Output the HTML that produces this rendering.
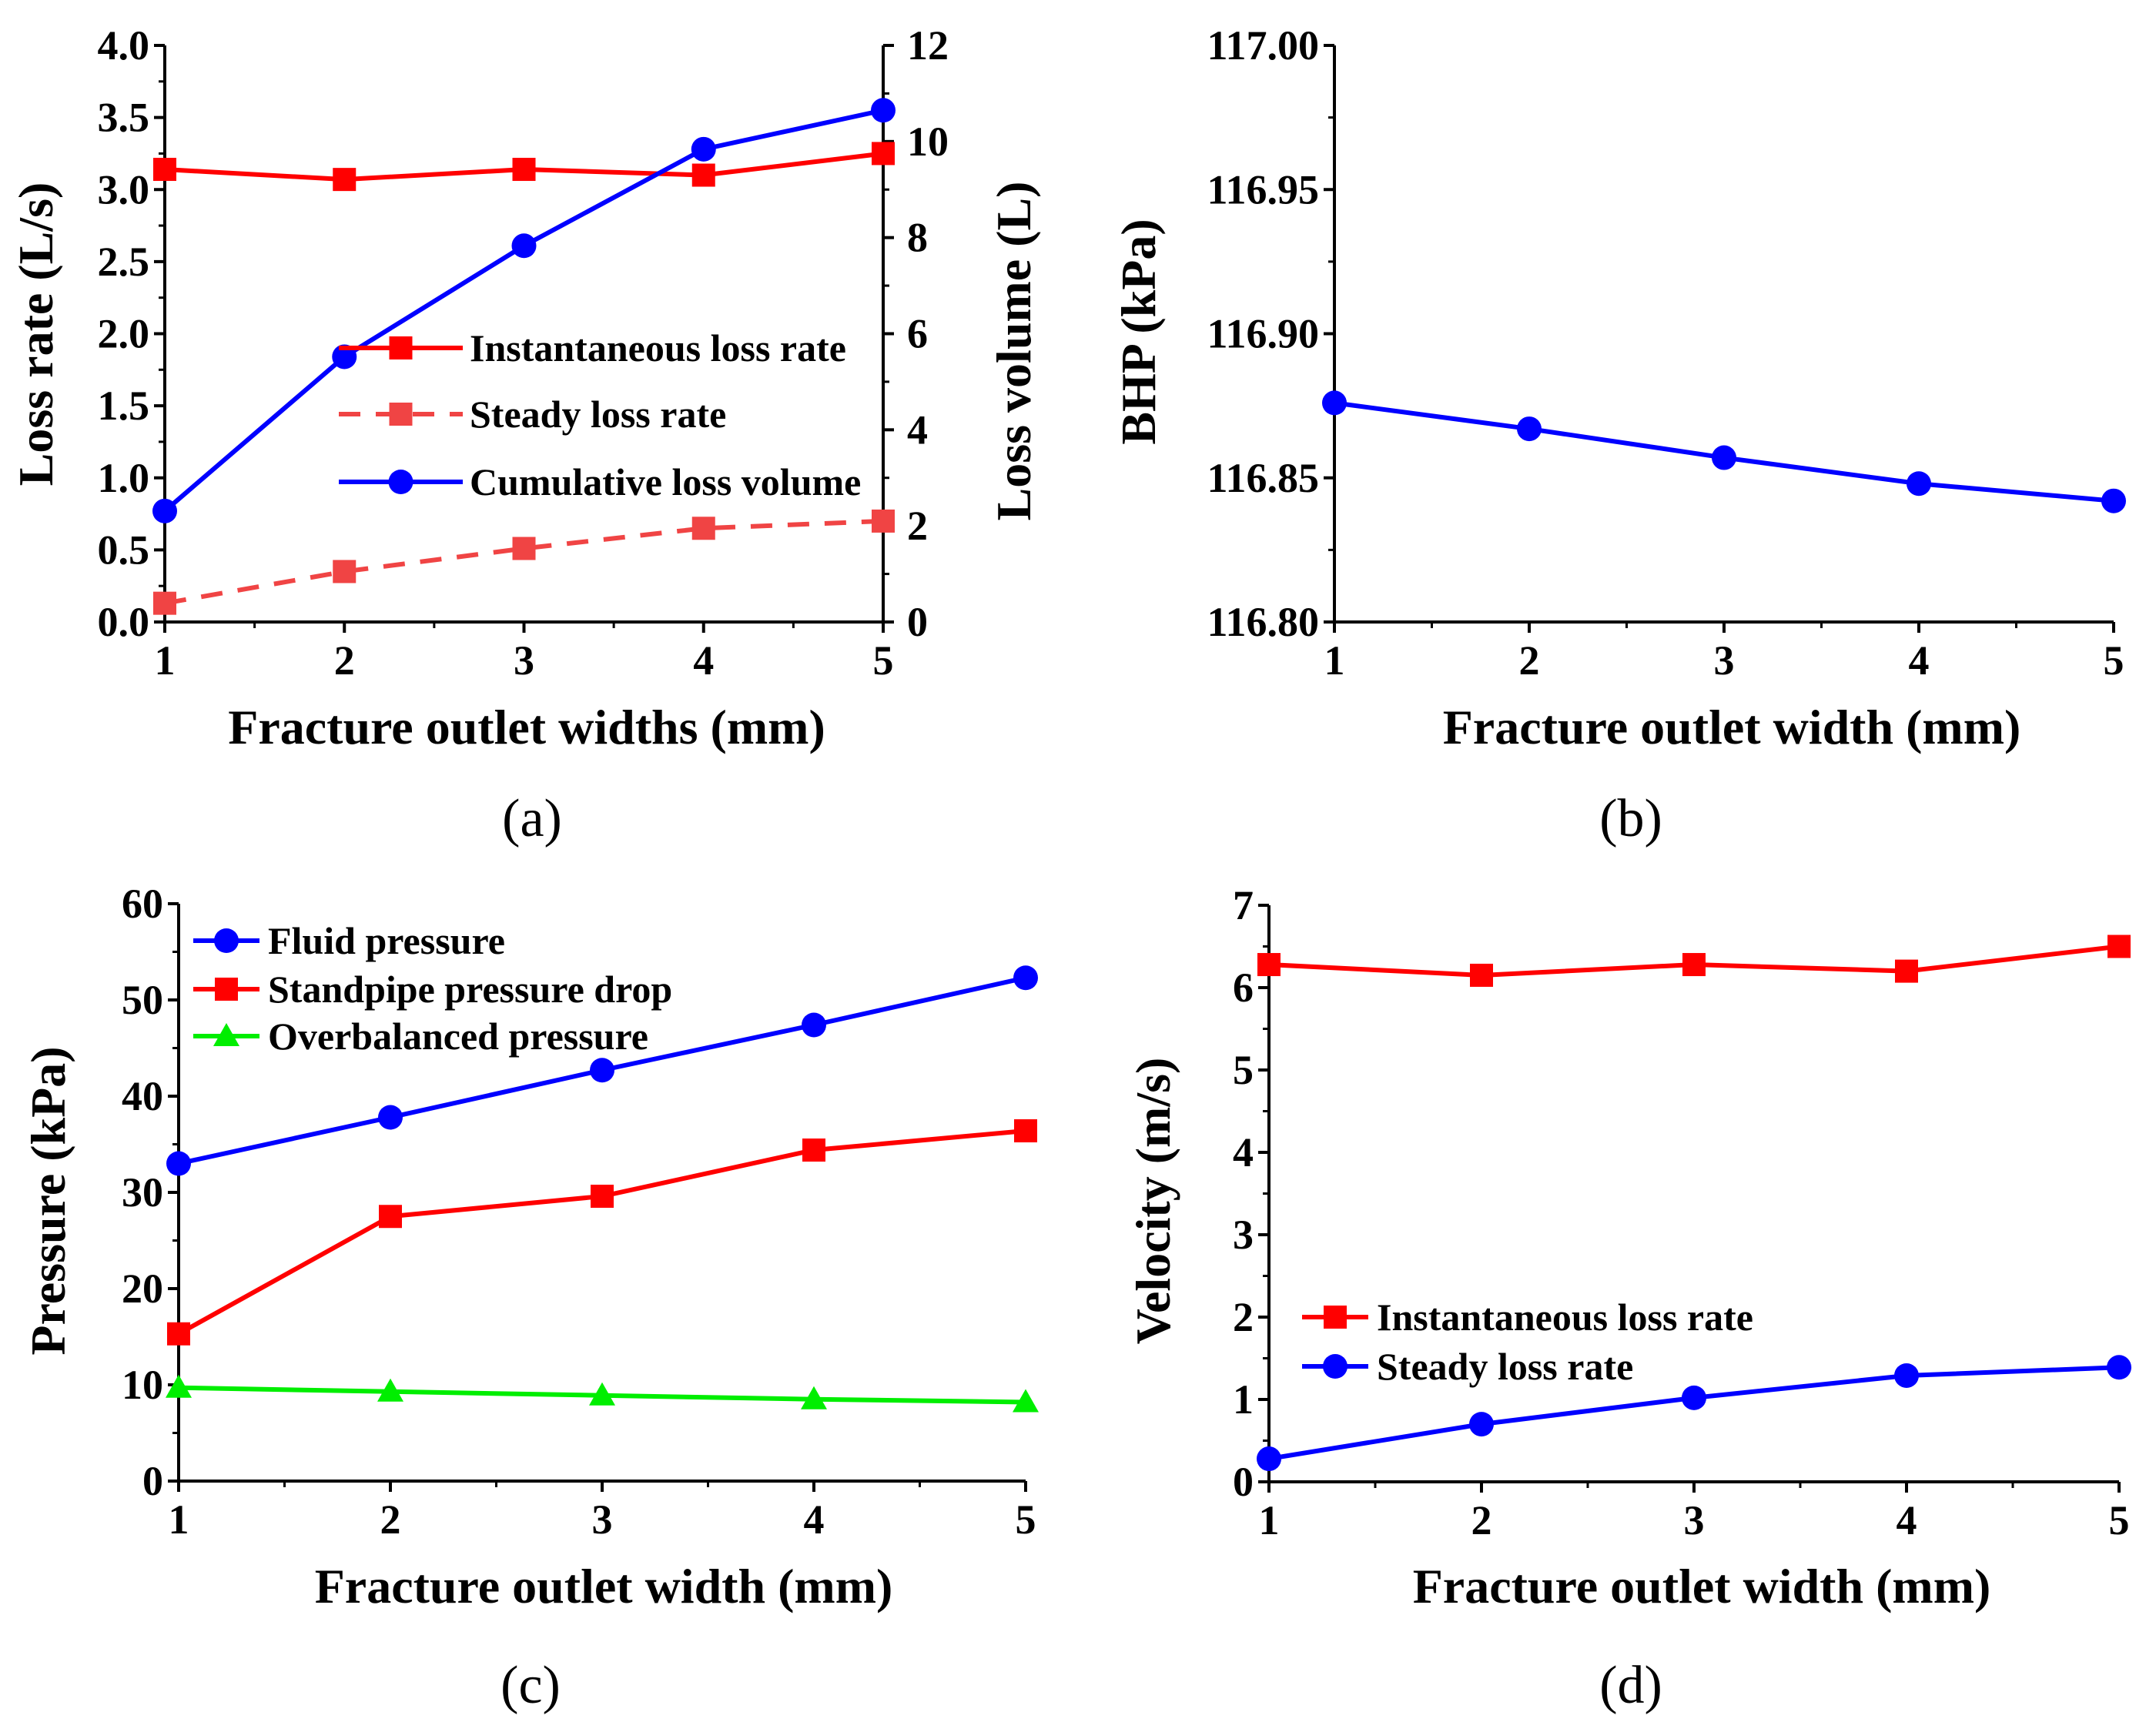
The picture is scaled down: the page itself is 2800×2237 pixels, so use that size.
<!DOCTYPE html>
<html><head><meta charset="utf-8"><style>
body{margin:0;background:#fff}
svg{display:block}
text{font-family:"Liberation Serif",serif;font-weight:bold;fill:#000}
text.cap{font-weight:normal}
</style></head><body>
<svg id="fig" width="2800" height="2237" viewBox="0 0 2800 2237" xmlns="http://www.w3.org/2000/svg"></svg>
<script>
const xCats=[1,2,3,4,5];
const aInst=[3.14,3.07,3.14,3.10,3.25];
const aSteady=[0.13,0.35,0.51,0.65,0.70];
const aCum=[2.31,5.52,7.83,9.84,10.65];
const aLeftTicks=["0.0","0.5","1.0","1.5","2.0","2.5","3.0","3.5","4.0"];
const aRightTicks=["0","2","4","6","8","10","12"];
const bBHP=[116.876,116.867,116.857,116.848,116.842];
const bTicks=["116.80","116.85","116.90","116.95","117.00"];
const cFluid=[33.0,37.8,42.7,47.4,52.3];
const cStand=[15.3,27.5,29.6,34.4,36.4];
const cOver=[9.7,9.3,8.9,8.5,8.2];
const cTicks=["0","10","20","30","40","50","60"];
const dInst=[6.28,6.15,6.28,6.20,6.50];
const dSteady=[0.28,0.70,1.02,1.29,1.39];
const dTicks=["0","1","2","3","4","5","6","7"];

const svg=document.getElementById('fig');
const NS='http://www.w3.org/2000/svg';
const TF=54, TT=64, LF=50;
function mk(tag,attrs,parent){const e=document.createElementNS(NS,tag);for(const k in attrs)e.setAttribute(k,attrs[k]);(parent||svg).appendChild(e);return e;}
function txt(s,x,y,size,anchor,parent,rot,cls){const t=mk('text',{x:x,y:y,'font-size':size,'text-anchor':anchor||'middle'},parent);if(rot)t.setAttribute('transform','rotate(-90 '+x+' '+y+')');if(cls)t.setAttribute('class',cls);t.textContent=s;return t;}
function scale(d0,d1,r0,r1){return v=>r0+(v-d0)/(d1-d0)*(r1-r0);}

function axes(g,X0,X1,Y0,Y1,ymin,ymax,ticks,minorStep){
  const sx=scale(1,5,X0,X1), sy=scale(ymin,ymax,Y0,Y1);
  mk('line',{x1:X0,y1:Y0,x2:X1,y2:Y0,stroke:'#000','stroke-width':4},g);
  mk('line',{x1:X0,y1:Y0,x2:X0,y2:Y1,stroke:'#000','stroke-width':4},g);
  for(let i=0;i<5;i++){mk('line',{x1:sx(xCats[i]),y1:Y0,x2:sx(xCats[i]),y2:Y0+14,stroke:'#000','stroke-width':4},g);
    const t=txt(String(xCats[i]),sx(xCats[i]),Y0+68,TF,'middle',g);}
  for(let i=0;i<4;i++){const x=sx(xCats[i]+0.5);mk('line',{x1:x,y1:Y0,x2:x,y2:Y0+8,stroke:'#000','stroke-width':3},g);}
  ticks.forEach(s=>{const v=parseFloat(s),y=sy(v);mk('line',{x1:X0,y1:y,x2:X0-14,y2:y,stroke:'#000','stroke-width':4},g);
    const t=txt(s,X0-20,y+18,TF,'end',g);});
  for(let v=ymin+minorStep;v<ymax;v+=2*minorStep){const y=sy(v);mk('line',{x1:X0,y1:y,x2:X0-8,y2:y,stroke:'#000','stroke-width':3},g);}
  return {sx,sy};
}
function series(g,sx,sy,vals,color,marker,dash,name){
  const sg=mk('g',{},g);
  const pts=vals.map((v,i)=>sx(xCats[i])+','+sy(v)).join(' ');
  const pl=mk('polyline',{points:pts,fill:'none',stroke:color,'stroke-width':6},sg);
  if(dash)pl.setAttribute('stroke-dasharray','28 20');
  vals.forEach((v,i)=>drawMarker(sg,sx(xCats[i]),sy(v),color,marker));
}
function drawMarker(g,x,y,color,m){
  if(m==='sq')mk('rect',{x:x-15,y:y-15,width:30,height:30,fill:color},g);
  else if(m==='ci')mk('circle',{cx:x,cy:y,r:16,fill:color},g);
  else mk('polygon',{points:(x)+','+(y-17)+' '+(x-17)+','+(y+13)+' '+(x+17)+','+(y+13),fill:color},g);
}
function legend(g,x0,x1,xt,y,color,m,dash,label,size){
  const lg=mk('g',{},g);
  const l=mk('line',{x1:x0,y1:y,x2:x1,y2:y,stroke:color,'stroke-width':6},lg);
  if(dash)l.setAttribute('stroke-dasharray','28 20');
  drawMarker(lg,(x0+x1)/2,y,color,m);
  txt(label,xt,y+17,size,'start',lg);
}
function panel(name){const g=mk('g',{});return g;}

// Panel a
let g=panel('panel-a');
let A=axes(g,214,1147,808,59,0,4,aLeftTicks,0.25);
const syR=scale(0,12,808,59);
mk('line',{x1:1147,y1:808,x2:1147,y2:59,stroke:'#000','stroke-width':4},g);
aRightTicks.forEach(s=>{const y=syR(parseFloat(s));mk('line',{x1:1147,y1:y,x2:1161,y2:y,stroke:'#000','stroke-width':4},g);
  const t=txt(s,1178,y+18,TF,'start',g);});
for(let v=1;v<12;v+=2){const y=syR(v);mk('line',{x1:1147,y1:y,x2:1155,y2:y,stroke:'#000','stroke-width':3},g);}
series(g,A.sx,A.sy,aInst,'#ff0000','sq',false,'series-instantaneous-loss-rate');
series(g,A.sx,A.sy,aSteady,'#f04444','sq',true,'series-steady-loss-rate');
series(g,A.sx,syR,aCum,'#0000ff','ci',false,'series-cumulative-loss-volume');
legend(g,440,601,610,452,'#ff0000','sq',false,'Instantaneous loss rate',LF);
legend(g,440,601,610,538,'#f04444','sq',true,'Steady loss rate',LF);
legend(g,440,601,610,626,'#0000ff','ci',false,'Cumulative loss volume',LF);
txt('Fracture outlet widths (mm)',684,966,TT,'middle',g);
txt('Loss rate (L/s)',68,434,TT,'middle',g,true);
txt('Loss volume (L)',1338,456,TT,'middle',g,true);
txt('(a)',691,1086,70,'middle',g,false,'cap');

// Panel b
g=panel('panel-b');
let B=axes(g,1733,2745,808,59,116.80,117.00,bTicks,0.025);
series(g,B.sx,B.sy,bBHP,'#0000ff','ci',false,'series-bhp');
txt('Fracture outlet width (mm)',2249,966,TT,'middle',g);
txt('BHP (kPa)',1500,431,TT,'middle',g,true);
txt('(b)',2118,1086,70,'middle',g,false,'cap');

// Panel c
g=panel('panel-c');
let C=axes(g,232,1332,1924,1174,0,60,cTicks,5);
series(g,C.sx,C.sy,cFluid,'#0000ff','ci',false,'series-fluid-pressure');
series(g,C.sx,C.sy,cStand,'#ff0000','sq',false,'series-standpipe-pressure-drop');
series(g,C.sx,C.sy,cOver,'#00ee00','tri',false,'series-overbalanced-pressure');
legend(g,251,337,348,1222,'#0000ff','ci',false,'Fluid pressure',LF);
legend(g,251,337,348,1285,'#ff0000','sq',false,'Standpipe pressure drop',LF);
legend(g,251,337,348,1346,'#00ee00','tri',false,'Overbalanced pressure',LF);
txt('Fracture outlet width (mm)',784,2082,TT,'middle',g);
txt('Pressure (kPa)',84,1560,TT,'middle',g,true);
txt('(c)',689,2212,70,'middle',g,false,'cap');

// Panel d
g=panel('panel-d');
let D=axes(g,1648,2752,1925,1176,0,7,dTicks,0.5);
series(g,D.sx,D.sy,dInst,'#ff0000','sq',false,'series-instantaneous-velocity');
series(g,D.sx,D.sy,dSteady,'#0000ff','ci',false,'series-steady-velocity');
legend(g,1691,1777,1788,1711,'#ff0000','sq',false,'Instantaneous loss rate',LF);
legend(g,1691,1777,1788,1775,'#0000ff','ci',false,'Steady loss rate',LF);
txt('Fracture outlet width (mm)',2210,2082,TT,'middle',g);
txt('Velocity (m/s)',1519,1560,TT,'middle',g,true);
txt('(d)',2118,2212,70,'middle',g,false,'cap');
</script>
</body></html>
